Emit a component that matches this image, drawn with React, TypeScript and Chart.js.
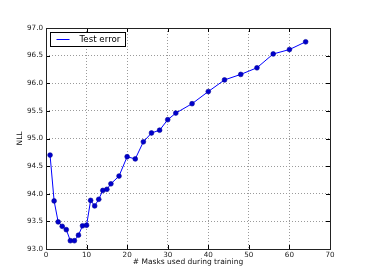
import React, { useEffect, useRef } from "react";
import { Chart, registerables } from "chart.js";

Chart.register(...registerables);

const masks = [1, 2, 3, 4, 5, 6, 7, 8, 9, 10, 11, 12, 13, 14, 15, 16, 18, 20, 22, 24, 26, 28, 30, 32, 36, 40, 44, 48, 52, 56, 60, 64];
const nll = [94.70, 93.87, 93.49, 93.41, 93.35, 93.15, 93.15, 93.25, 93.42, 93.43, 93.88, 93.78, 93.90, 94.06, 94.08, 94.18, 94.32, 94.67, 94.63, 94.94, 95.10, 95.15, 95.34, 95.46, 95.63, 95.85, 96.06, 96.16, 96.28, 96.53, 96.61, 96.75];
const seriesLabel = "Test error";
const xTitle = "# Masks used during training";
const yTitle = "NLL";

const FONT = "'DejaVu Sans', sans-serif";

const framePlugin = {
  id: "frameAndLegend",
  afterDraw(chart: any) {
    const { ctx, chartArea } = chart;
    const { left, right, top, bottom } = chartArea;
    const xs = chart.scales.x;
    const ys = chart.scales.y;
    ctx.save();
    ctx.setLineDash([]);
    // ticks inward
    ctx.strokeStyle = "#000";
    ctx.lineWidth = 1;
    ctx.beginPath();
    xs.ticks.forEach((t: any) => {
      const px = Math.round(xs.getPixelForValue(t.value)) + 0.5;
      ctx.moveTo(px, bottom);
      ctx.lineTo(px, bottom - 4);
      ctx.moveTo(px, top);
      ctx.lineTo(px, top + 4);
    });
    ys.ticks.forEach((t: any) => {
      const py = Math.round(ys.getPixelForValue(t.value)) + 0.5;
      ctx.moveTo(left, py);
      ctx.lineTo(left + 4, py);
      ctx.moveTo(right, py);
      ctx.lineTo(right - 4, py);
    });
    ctx.stroke();
    // frame
    ctx.strokeStyle = "#222";
    ctx.strokeRect(Math.round(left) + 0.5, Math.round(top) + 0.5, Math.round(right - left), Math.round(bottom - top));
    // legend
    const lx = Math.round(left) + 4.5;
    const ly = Math.round(top) + 4.5;
    ctx.fillStyle = "#fff";
    ctx.fillRect(lx, ly, 75, 14);
    ctx.strokeStyle = "#000";
    ctx.strokeRect(lx, ly, 75, 14);
    ctx.strokeStyle = "#0000ff";
    ctx.beginPath();
    ctx.moveTo(lx + 6, ly + 7);
    ctx.lineTo(lx + 19, ly + 7);
    ctx.stroke();
    ctx.fillStyle = "#000";
    ctx.font = "8.7px " + FONT;
    ctx.textBaseline = "middle";
    ctx.textAlign = "left";
    ctx.fillText(seriesLabel, lx + 29, ly + 7.5);
    ctx.restore();
  },
};

export default function App() {
  const ref = useRef<HTMLCanvasElement>(null);
  useEffect(() => {
    const canvas = ref.current!;
    const chart = new Chart(canvas, {
      type: "line",
      data: {
        datasets: [
          {
            label: seriesLabel,
            data: masks.map((m, i) => ({ x: m, y: nll[i] })),
            borderColor: "#0000ff",
            borderWidth: 1,
            pointRadius: 2.4,
            pointBackgroundColor: "#0000cc",
            pointBorderColor: "#000099",
            pointBorderWidth: 0.6,
            tension: 0,
          },
        ],
      },
      plugins: [framePlugin],
      options: {
        animation: false,
        responsive: false,
        devicePixelRatio: 1,
        layout: { padding: { top: 28, right: 37, left: 0, bottom: 0 } },
        plugins: { legend: { display: false }, tooltip: { enabled: false } },
        scales: {
          x: {
            type: "linear",
            min: 0,
            max: 70,
            afterFit: (s: any) => {
              s.height = 28;
            },
            ticks: {
              stepSize: 10,
              padding: 2,
              maxRotation: 0,
              color: "#222",
              font: { family: FONT, size: 7.2 },
              callback: (v: any) => String(v),
            },
            grid: { color: "#9a9a9a", lineWidth: 1, drawTicks: false },
            border: { display: false, dash: [1, 2] },
            title: {
              display: true,
              text: xTitle,
              color: "#111",
              font: { family: FONT, size: 7.5 },
              padding: { top: 0, bottom: 10.8 },
            },
          },
          y: {
            type: "linear",
            min: 93,
            max: 97,
            afterFit: (s: any) => {
              s.width = 46;
            },
            ticks: {
              stepSize: 0.5,
              padding: 3,
              color: "#222",
              font: { family: FONT, size: 7.2 },
              callback: (v: any) => Number(v).toFixed(1),
            },
            grid: { color: "#9a9a9a", lineWidth: 1, drawTicks: false },
            border: { display: false, dash: [1, 2] },
            title: {
              display: true,
              text: yTitle,
              color: "#111",
              font: { family: FONT, size: 7.5 },
              padding: { top: 16, bottom: 0 },
            },
          },
        },
      },
    });
    return () => chart.destroy();
  }, []);
  return (
    <div style={{ position: "fixed", left: 0, top: 0, width: 367, height: 277, background: "#fff" }}>
      <canvas ref={ref} width={367} height={277} style={{ display: "block" }} />
    </div>
  );
}
